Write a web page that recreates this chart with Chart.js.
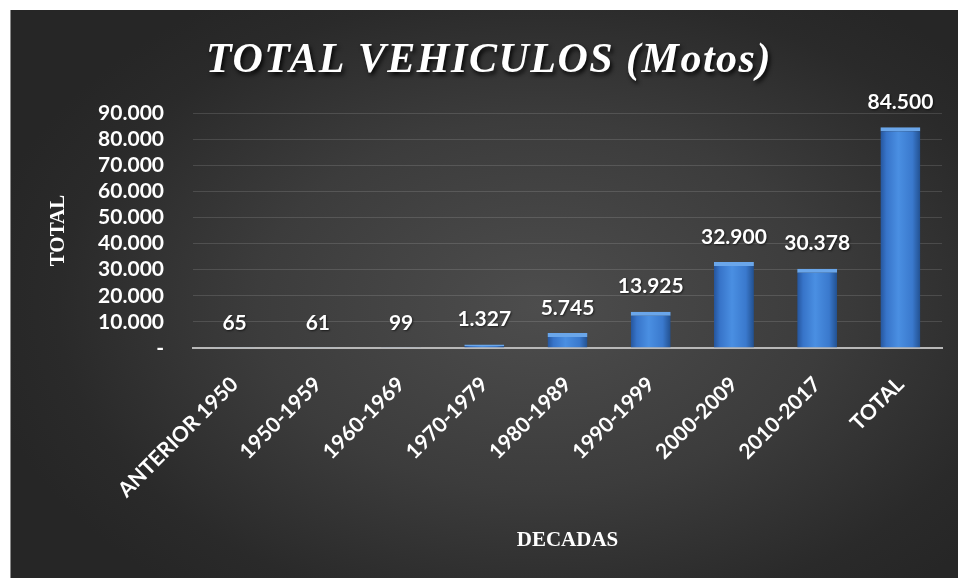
<!DOCTYPE html>
<html>
<head>
<meta charset="utf-8">
<script src="https://cdn.jsdelivr.net/npm/chart.js@4.4.0/dist/chart.umd.min.js"></script>
<style>
  html, body { margin: 0; padding: 0; background: #fff; }
  #wrap {
    position: absolute; left: 10px; top: 10px; width: 948px; height: 568px;
    background: radial-gradient(ellipse 60% 65% at 56% 52%, #4d4d4d 0%, #3c3c3c 50%, #2a2a2a 85%, #262626 100%);
    box-shadow: inset 1px 0 0 #8a8a8a;
  }
</style>
</head>
<body>
<div id="wrap"><canvas id="barChart" width="948" height="568"></canvas></div>
<script>
var chartTitle = "TOTAL VEHICULOS (Motos)";
var decadas = ["ANTERIOR 1950", "1950-1959", "1960-1969", "1970-1979", "1980-1989", "1990-1999", "2000-2009", "2010-2017", "TOTAL"];
var motos = [65, 61, 99, 1327, 5745, 13925, 32900, 30378, 84500];
var yTicks = [0, 10000, 20000, 30000, 40000, 50000, 60000, 70000, 80000, 90000];

// 84500 -> "84.500", 0 -> "-"
function formatNum(v) {
  if (v === 0) return "-";
  return String(v).replace(/\B(?=(\d{3})+(?!\d))/g, ".");
}

function barGradient(context) {
  var chart = context.chart;
  if (!chart.chartArea || !chart.scales.x) return "#3b7dd6";
  var x = chart.scales.x.getPixelForValue(context.dataIndex);
  var g = chart.ctx.createLinearGradient(x - 20, 0, x + 20, 0);
  g.addColorStop(0, "#25559c");
  g.addColorStop(0.15, "#3774c9");
  g.addColorStop(0.45, "#4a8fe2");
  g.addColorStop(0.8, "#3a79cd");
  g.addColorStop(1, "#22508f");
  return g;
}

var titlePlugin = {
  id: "bigTitle",
  afterDraw: function (chart) {
    var ctx = chart.ctx;
    ctx.save();
    ctx.font = "italic bold 42px 'Liberation Serif'";
    ctx.letterSpacing = "1.5px";
    ctx.fillStyle = "#ffffff";
    ctx.textAlign = "center";
    ctx.textBaseline = "alphabetic";
    ctx.shadowColor = "rgba(0,0,0,0.85)";
    ctx.shadowOffsetX = 2;
    ctx.shadowOffsetY = 3;
    ctx.shadowBlur = 4;
    ctx.fillText(chartTitle, 479, 62);
    ctx.restore();
  }
};

var valueLabels = {
  id: "valueLabels",
  afterDatasetsDraw: function (chart) {
    var ctx = chart.ctx;
    var meta = chart.getDatasetMeta(0);
    ctx.save();
    ctx.font = "bold 21px Lato";
    ctx.fillStyle = "#ffffff";
    ctx.textAlign = "center";
    ctx.textBaseline = "middle";
    ctx.shadowColor = "rgba(0,0,0,0.6)";
    ctx.shadowOffsetX = 1;
    ctx.shadowOffsetY = 1;
    ctx.shadowBlur = 2;
    meta.data.forEach(function (bar, i) {
      ctx.fillText(formatNum(motos[i]), bar.x, bar.y - 25);
    });
    ctx.restore();
  }
};

var ctx = document.getElementById("barChart").getContext("2d");
var myChart = new Chart(ctx, {
  type: "bar",
  data: {
    labels: decadas,
    datasets: [{
      label: "Motos",
      data: motos,
      backgroundColor: barGradient,
      borderColor: "#6aa6ea",
      borderWidth: { top: 4, left: 0, right: 0, bottom: 0 },
      borderSkipped: false,
      categoryPercentage: 1,
      barPercentage: 0.48
    }]
  },
  options: {
    responsive: false,
    animation: false,
    layout: { padding: { top: 103, left: 36, right: 16, bottom: 20 } },
    plugins: {
      legend: { display: false },
      tooltip: { enabled: false }
    },
    scales: {
      x: {
        grid: { display: false, drawTicks: false },
        border: { display: true, color: "#b8b8b8", width: 2 },
        ticks: {
          color: "#ffffff",
          font: { family: "Lato", weight: "bold", size: 21 },
          minRotation: 45,
          maxRotation: 45,
          autoSkip: false,
          padding: 24
        },
        title: {
          display: true,
          text: "DECADAS",
          color: "#ffffff",
          font: { family: "'Liberation Serif'", weight: "bold", size: 21 },
          padding: { top: 0, bottom: 5 }
        },
        afterFit: function (scale) { scale.height = 210; }
      },
      y: {
        min: 0,
        max: 90000,
        afterBuildTicks: function (scale) {
          scale.ticks = yTicks.map(function (v) { return { value: v }; });
        },
        grid: {
          drawTicks: false,
          color: function (c) { return c.tick && c.tick.value === 0 ? "rgba(0,0,0,0)" : "rgba(255,255,255,0.13)"; },
          lineWidth: 1
        },
        border: { display: false },
        ticks: {
          color: "#ffffff",
          font: { family: "Lato", weight: "bold", size: 21 },
          padding: 29,
          autoSkip: false,
          callback: function (v) { return formatNum(v); }
        },
        title: {
          display: true,
          text: "TOTAL",
          color: "#ffffff",
          font: { family: "'Liberation Serif'", weight: "bold", size: 21 },
          padding: { top: 0, bottom: 0 }
        },
        afterFit: function (scale) { scale.width = 147; }
      }
    }
  },
  plugins: [titlePlugin, valueLabels]
});
</script>
</body>
</html>
